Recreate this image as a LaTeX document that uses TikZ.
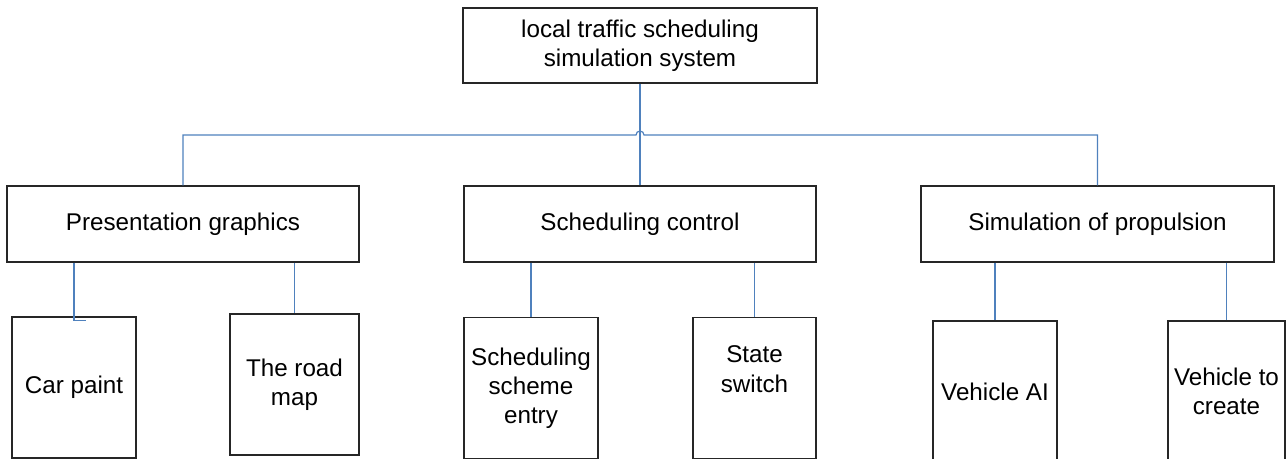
\documentclass[tikz,border=0pt]{standalone}
\usepackage{fontspec}
\setmainfont{Liberation Sans}
\definecolor{linkblue}{RGB}{79,129,189}
\tikzset{
	box/.style={draw=black!85, line width=0.6pt, align=center, inner sep=0pt, font=\fontsize{12.1}{14.6}\selectfont},
	leaf/.style={box, minimum height=70.5pt},
	link/.style={draw=linkblue, line width=0.6pt}
}
\begin{document}
\begin{tikzpicture}[x=0.5pt, y=-0.5pt]
	\useasboundingbox (0,0) rectangle (1286,459);
	\clip (0,0) rectangle (1286,459);

	%top and middle boxes
	\node [box, minimum width=177pt, minimum height=37.5pt] (system) at (640,45.5) {local traffic scheduling\\simulation system};
	\node [box, minimum width=176pt, minimum height=38pt] (pres) at (183,224) {Presentation graphics};
	\node [box, minimum width=176pt, minimum height=38pt] (sched) at (640,224) {Scheduling control};
	\node [box, minimum width=176.5pt, minimum height=38pt] (sim) at (1097.5,224) {Simulation of propulsion};

	%leaf boxes
	\node [leaf, minimum width=62pt] (car) at (74,387.5) {Car paint};
	\node [leaf, minimum width=64.5pt] (road) at (294.5,384.5) {The road\\map};
	\node [leaf, minimum width=67pt] (entry) at (531,388) {Scheduling\\scheme\\entry};
	\node [leaf, minimum width=61.5pt] (switch) at (754.5,388) {State\\switch\\\strut};
	\node [leaf, minimum width=62pt] (ai) at (995,391.5) {Vehicle AI};
	\node [leaf, minimum width=58.5pt] (create) at (1226.5,391.5) {Vehicle to\\create};

	%connectors
	\coordinate (bus) at (640,135);
	\draw [link] (system.south) -- (sched.north);
	\draw [link] (pres.north) |- ([xshift=-2pt]bus) arc [start angle=180, end angle=0, radius=2pt] -| (sim.north);
	\draw [link] (pres.south -| car.north) -- ([yshift=-2pt]car.north) -- ++(6pt,0);
	\foreach \a/\b in {pres/road, sched/entry, sched/switch, sim/ai, sim/create}
		\draw [link] (\a.south -| \b.north) -- (\b.north);

\end{tikzpicture}
\end{document}
